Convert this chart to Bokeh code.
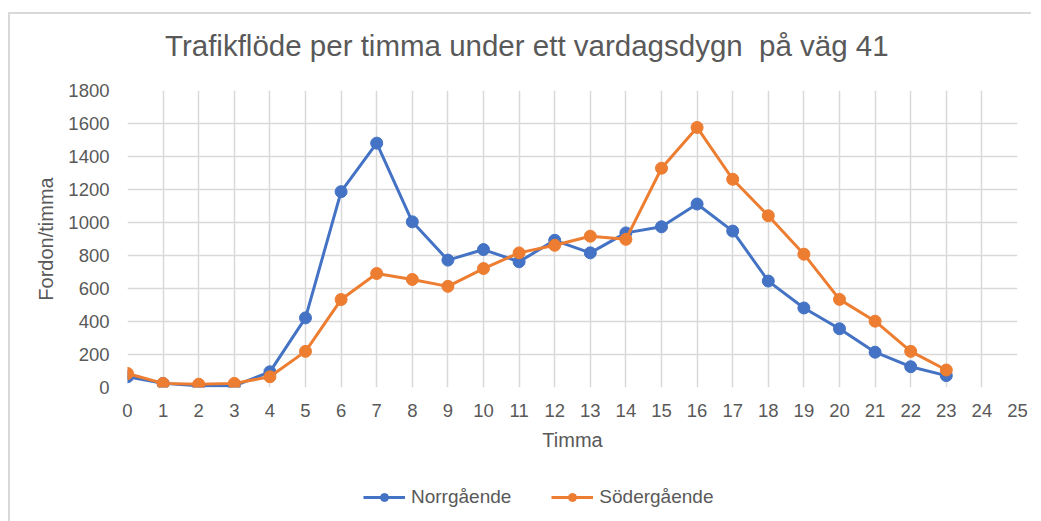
from bokeh.plotting import figure
from bokeh.models import Legend, LegendItem, FixedTicker, Range1d, Div
from bokeh.layouts import column
from bokeh.embed import file_html
from bokeh.resources import INLINE

hours = list(range(24))
norrgaende = [65, 25, 10, 10, 95, 422, 1187, 1481, 1004, 772, 836, 762, 892, 816, 937, 974, 1112, 948, 645, 482, 356, 214, 126, 72]
sodergaende = [85, 25, 20, 25, 65, 219, 533, 691, 655, 613, 721, 816, 862, 917, 898, 1329, 1576, 1262, 1041, 808, 534, 402, 219, 106]
x_ticks = list(range(26))
y_ticks = list(range(0, 1801, 200))

title_text = "Trafikflöde per timma under ett vardagsdygn&nbsp; på väg 41"
x_label = "Timma"
y_label = "Fordon/timma"
names = ["Norrgående", "Södergående"]
colors = ["#4472C4", "#ED7D31"]

TXT = "#595959"
FONT = "Liberation Sans"
W = 1021

title_div = Div(
    text=('<div style="padding:15px 0 0 155px;font-family:\'Liberation Sans\';'
          'font-size:29.5px;color:#595959;white-space:nowrap;line-height:34px">'
          + title_text + '</div>'),
    width=W, height=62, margin=0)

p = figure(frame_width=890, frame_height=297, output_backend="svg", toolbar_location=None,
           x_range=Range1d(0, 25), y_range=Range1d(0, 1800),
           min_border_left=117, min_border_right=14, min_border_top=14, min_border_bottom=70)
p.outline_line_color = None
p.background_fill_color = "white"
p.border_fill_color = "white"

for ax in (p.xaxis[0], p.yaxis[0]):
    ax.axis_line_color = None
    ax.major_tick_line_color = None
    ax.minor_tick_line_color = None
    ax.major_label_text_font = FONT
    ax.major_label_text_font_size = "18.5px"
    ax.major_label_text_color = TXT
    ax.axis_label_text_font = FONT
    ax.axis_label_text_font_size = "20px"
    ax.axis_label_text_font_style = "normal"
    ax.axis_label_text_color = TXT

p.xaxis.ticker = FixedTicker(ticks=x_ticks)
p.yaxis.ticker = FixedTicker(ticks=y_ticks)
p.xaxis.axis_label = x_label
p.yaxis.axis_label = y_label
p.xaxis.major_label_standoff = 10
p.xaxis.axis_label_standoff = 9
p.yaxis.major_label_standoff = 12
p.yaxis.axis_label_standoff = 8

p.xgrid.ticker = FixedTicker(ticks=x_ticks)
p.ygrid.ticker = FixedTicker(ticks=y_ticks)
for g in (p.xgrid[0], p.ygrid[0]):
    g.grid_line_color = "#d9d9d9"
    g.grid_line_width = 1.5

series = [norrgaende, sodergaende]
for vals, col in zip(series, colors):
    p.line(hours, vals, line_color=col, line_width=3)
    p.scatter(hours, vals, size=12, fill_color=col, line_color=col, marker="circle")

# legend strip below the chart (its own renderers sit outside its visible ranges)
p2 = figure(width=W, height=64, output_backend="svg", toolbar_location=None,
            x_range=Range1d(1000, 1001), y_range=Range1d(10000, 10001), min_border=0)
p2.axis.visible = False
p2.grid.visible = False
p2.outline_line_color = None
p2.border_fill_color = "white"
items = []
for vals, name, col in zip(series, names, colors):
    l = p2.line(hours, vals, line_color=col, line_width=3)
    s = p2.scatter(hours, vals, size=12, fill_color=col, line_color=col, marker="circle")
    items.append(LegendItem(label=name, renderers=[l, s]))
legend = Legend(items=items, orientation="horizontal", location=(236, 13),
                label_text_font=FONT, label_text_font_size="19px", label_text_color=TXT,
                glyph_width=42, spacing=40, border_line_color=None, margin=0, padding=0,
                label_standoff=6, background_fill_alpha=0)
p2.add_layout(legend, "center")

layout = column(title_div, p, p2, spacing=0,
                styles={"border-top": "2px solid #d9d9d9", "border-left": "2px solid #d9d9d9",
                        "margin-left": "8px", "margin-top": "12px"})

open("out.html", "w").write(file_html(layout, INLINE))
